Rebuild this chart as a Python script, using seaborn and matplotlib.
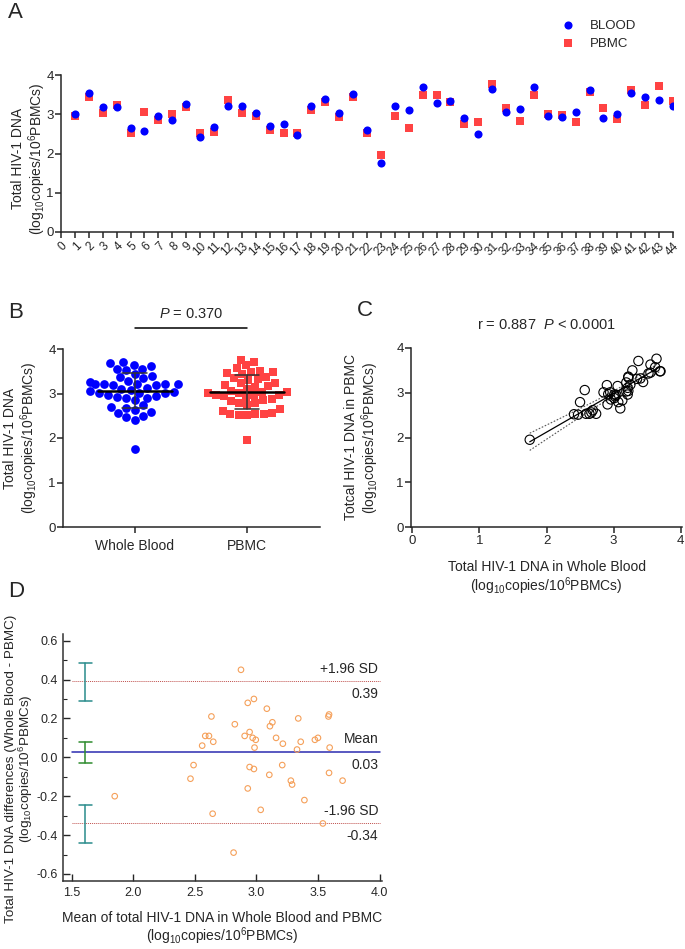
import numpy as np
import pandas as pd
import seaborn as sns
import matplotlib
matplotlib.use("Agg")
import matplotlib.pyplot as plt

# valeurs (log10 copies / 10^6 PBMCs)
samples = list(range(1, 45))
blood = [3.01, 3.55, 3.19, 3.19, 2.64, 2.57, 2.96, 2.85, 3.25, 2.41, 2.67, 3.22, 3.22, 3.04,
         2.69, 2.74, 2.47, 3.21, 3.40, 3.02, 3.52, 2.59, 1.75, 3.21, 3.10, 3.69, 3.28, 3.35,
         2.91, 2.50, 3.64, 3.06, 3.13, 3.70, 2.95, 2.92, 3.07, 3.62, 2.90, 3.01, 3.55, 3.44,
         3.37, 3.22]
pbmc = [2.96, 3.45, 3.03, 3.23, 2.53, 3.06, 2.85, 3.01, 3.18, 2.52, 2.56, 3.36, 3.04, 2.95,
        2.61, 2.53, 2.51, 3.11, 3.32, 2.92, 3.43, 2.53, 1.95, 2.96, 2.65, 3.48, 3.50, 3.31,
        2.74, 2.79, 3.76, 3.15, 2.83, 3.48, 3.01, 2.97, 2.79, 3.57, 3.17, 2.88, 3.63, 3.24,
        3.71, 3.34]
groups = ["Whole Blood", "PBMC"]

# Bland-Altman (valeurs du graphique)
ba_mean = 0.026
ba_upper = 0.39
ba_lower = -0.34
ci_upper = [0.29, 0.486]
ci_mean = [-0.029, 0.081]
ci_lower = [-0.441, -0.245]

sns.set_style("ticks")
plt.rcParams["font.family"] = ["Liberation Sans", "DejaVu Sans"]
plt.rcParams["mathtext.fontset"] = "custom"
plt.rcParams["mathtext.rm"] = "Liberation Sans"
plt.rcParams["mathtext.it"] = "Liberation Sans:italic"
plt.rcParams["axes.linewidth"] = 1.1
plt.rcParams["xtick.major.width"] = 1.1
plt.rcParams["ytick.major.width"] = 1.1
plt.rcParams["xtick.major.size"] = 4
plt.rcParams["ytick.major.size"] = 4
plt.rcParams["xtick.major.pad"] = 2
plt.rcParams["ytick.major.pad"] = 1.2

unit = "(log$_{10}$copies/10$^{6}$PBMCs)"
W, H = 685, 949
fig = plt.figure(figsize=(W / 100, H / 100), dpi=100)


def box(l, t, r, b):
    return [l / W, 1 - b / H, (r - l) / W, (b - t) / H]


blue = "#0000ff"
red = "#ff4343"
lab = 10
tk = 9.5

# ---------- A ----------
axA = fig.add_axes(box(61, 75, 673, 232))
dfA = pd.DataFrame({"sample": samples * 2, "value": pbmc + blood,
                    "type": ["PBMC"] * 44 + ["BLOOD"] * 44})
sns.scatterplot(data=dfA[dfA["type"] == "PBMC"], x="sample", y="value", marker="s",
                color=red, s=32, linewidth=0, ax=axA, label="PBMC", zorder=3)
sns.scatterplot(data=dfA[dfA["type"] == "BLOOD"], x="sample", y="value", marker="o",
                color=blue, s=34, linewidth=0, ax=axA, label="BLOOD", zorder=4)
axA.set_xlim(0, 44)
axA.set_ylim(0, 4)
axA.set_xticks(range(0, 45))
axA.set_xticklabels([str(i) for i in range(0, 45)], rotation=45, ha="right",
                    rotation_mode="anchor", fontsize=8.5)
axA.set_yticks([0, 1, 2, 3, 4])
axA.tick_params(axis="y", labelsize=tk)
axA.set_xlabel("")
axA.set_ylabel("Total HIV-1 DNA\n" + unit, fontsize=lab, linespacing=1.1)
axA.yaxis.set_label_coords(-0.021, 0.47)
sns.despine(ax=axA)
h, l = axA.get_legend_handles_labels()
axA.legend(h[::-1], l[::-1], loc="upper left", bbox_to_anchor=(0.788, 1.43),
           frameon=False, fontsize=9.5, handletextpad=0.6, labelspacing=0.45)

# ---------- B ----------
axB = fig.add_axes(box(63, 349, 320, 527))
dfB = pd.DataFrame({"group": ["Whole Blood"] * 44 + ["PBMC"] * 44, "value": blood + pbmc})
sns.swarmplot(data=dfB[dfB["group"] == "Whole Blood"], x="group", y="value", order=groups,
              color=blue, marker="o", size=6.3, linewidth=0, ax=axB, zorder=3)
sns.swarmplot(data=dfB[dfB["group"] == "PBMC"], x="group", y="value", order=groups,
              color=red, marker="s", size=5.8, linewidth=0, ax=axB, zorder=3)
for i, g in enumerate(groups):
    v = dfB.loc[dfB["group"] == g, "value"]
    m, sd = v.mean(), v.std()
    axB.plot([i - 0.33, i + 0.33], [m, m], color="black", lw=1.8, zorder=5)
    axB.plot([i, i], [m - sd, m + sd], color="#333333", lw=1.1, zorder=5)
    for yy in (m - sd, m + sd):
        axB.plot([i - 0.11, i + 0.11], [yy, yy], color="#333333", lw=1.1, zorder=5)
axB.set_xlim(-0.64, 1.65)
axB.set_ylim(0, 4)
axB.set_yticks([0, 1, 2, 3, 4])
axB.tick_params(labelsize=tk)
axB.tick_params(axis="x", labelsize=lab, pad=5)
axB.set_xlabel("")
axB.set_ylabel("Total HIV-1 DNA\n" + unit, fontsize=lab, linespacing=1.1)
axB.yaxis.set_label_coords(-0.09, 0.5)
axB.plot([0, 1], [4.47, 4.47], color="black", lw=1.1, clip_on=False)
axB.text(0.5, 4.62, "$P$ = 0.370", ha="center", va="bottom", fontsize=10.5)
sns.despine(ax=axB)

# ---------- C ----------
axC = fig.add_axes(box(411, 348, 682, 527))
x = np.array(blood)
y = np.array(pbmc)
sns.scatterplot(x=x, y=y, ax=axC, marker="o", s=45, facecolor="none",
                edgecolor="black", linewidth=0.8, zorder=3)
b1, b0 = np.polyfit(x, y, 1)
xs = np.linspace(x.min(), x.max(), 100)
n = len(x)
res = y - (b0 + b1 * x)
se = np.sqrt(np.sum(res ** 2) / (n - 2))
ci = 2.02 * se * np.sqrt(1 / n + (xs - x.mean()) ** 2 / np.sum((x - x.mean()) ** 2))
fit = b0 + b1 * xs
axC.plot(xs, fit, color="black", lw=0.9)
axC.plot(xs, fit + ci, color="#555555", lw=0.8, ls=(0, (1.5, 1.5)))
axC.plot(xs, fit - ci, color="#555555", lw=0.8, ls=(0, (1.5, 1.5)))
axC.set_xlim(-0.02, 4.02)
axC.set_ylim(0, 4)
axC.set_xticks([0, 1, 2, 3, 4])
axC.set_yticks([0, 1, 2, 3, 4])
axC.tick_params(labelsize=tk)
axC.set_title("r = 0.887  $P$ < 0.0001", fontsize=10.5, pad=14)
axC.set_xlabel("Total HIV-1 DNA in Whole Blood\n" + unit, fontsize=lab, labelpad=9,
               linespacing=1.1)
axC.set_ylabel("Totcal HIV-1 DNA in PBMC\n" + unit, fontsize=lab, linespacing=1.1)
axC.yaxis.set_label_coords(-0.111, 0.5)
sns.despine(ax=axC)

# ---------- D ----------
axD = fig.add_axes(box(63, 634, 382, 881))
mean_wb_pbmc = (x + y) / 2
diff = x - y
sns.scatterplot(x=mean_wb_pbmc, y=diff, ax=axD, marker="o", s=16, facecolor="none",
                edgecolor="#f5a05a", linewidth=0.8, zorder=3)
axD.plot([1.5, 4.0], [ba_upper, ba_upper], color="#c0504d", lw=0.7, ls=(0, (1, 1)))
axD.plot([1.5, 4.0], [ba_lower, ba_lower], color="#c0504d", lw=0.7, ls=(0, (1, 1)))
axD.plot([1.5, 4.0], [ba_mean, ba_mean], color="#2b2bb0", lw=1.1)
for lohi, col in ((ci_upper, "#2a8c8c"), (ci_mean, "#2e8b2e"), (ci_lower, "#2a8c8c")):
    axD.plot([1.612, 1.612], lohi, color=col, lw=1.1)
    for yy in lohi:
        axD.plot([1.56, 1.664], [yy, yy], color=col, lw=1.1)
axD.text(3.99, ba_upper + 0.03, "+1.96 SD", ha="right", va="bottom", fontsize=lab)
axD.text(3.99, ba_upper - 0.03, "%.2f" % ba_upper, ha="right", va="top", fontsize=lab)
axD.text(3.99, ba_mean + 0.03, "Mean", ha="right", va="bottom", fontsize=lab)
axD.text(3.99, ba_mean - 0.03, "%.2f" % ba_mean, ha="right", va="top", fontsize=lab)
axD.text(3.99, ba_lower + 0.03, "-1.96 SD", ha="right", va="bottom", fontsize=lab)
axD.text(3.99, ba_lower - 0.03, "%.2f" % ba_lower, ha="right", va="top", fontsize=lab)
axD.set_xlim(1.43, 4.02)
axD.set_ylim(-0.636, 0.634)
axD.set_xticks([1.5, 2.0, 2.5, 3.0, 3.5, 4.0])
axD.set_xticklabels(["1.5", "2.0", "2.5", "3.0", "3.5", "4.0"])
axD.set_yticks([-0.6, -0.4, -0.2, 0.0, 0.2, 0.4, 0.6])
axD.set_yticklabels(["-0.6", "-0.4", "-0.2", "0.0", "0.2", "0.4", "0.6"])
axD.set_yticks(np.arange(-0.5, 0.6, 0.2), minor=True)
axD.tick_params(which="major", direction="in", length=5, width=1.0, pad=4, labelsize=9)
axD.tick_params(which="minor", direction="in", length=3, width=0.8)
axD.spines["left"].set_color("#333333")
axD.spines["bottom"].set_color("#333333")
axD.set_xlabel("Mean of total HIV-1 DNA in Whole Blood and PBMC\n" + unit, fontsize=lab,
               labelpad=9, linespacing=1.05)
axD.set_ylabel("Total HIV-1 DNA differences (Whole Blood - PBMC)\n" + unit, fontsize=9.7,
               linespacing=0.95)
axD.yaxis.set_label_coords(-0.088, 0.453)
sns.despine(ax=axD)

# lettres des panneaux
for letter, px, py in (("A", 8, 2), ("B", 8, 302), ("C", 357, 300), ("D", 8, 581)):
    fig.text(px / W, 1 - py / H, letter, fontsize=16, ha="left", va="top")

fig.savefig("out.png", dpi=100)
